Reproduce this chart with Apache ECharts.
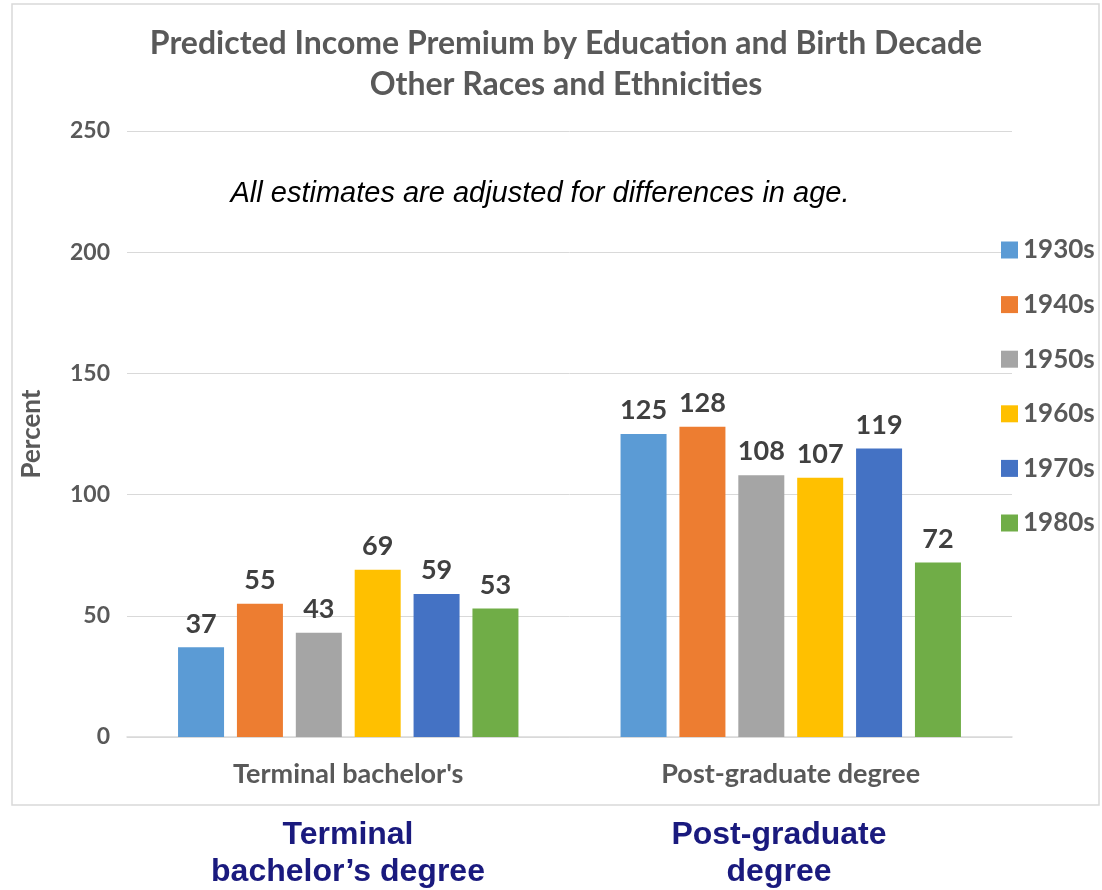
<!DOCTYPE html>
<html><head><meta charset="utf-8">
<script src="https://cdn.jsdelivr.net/npm/echarts@6/dist/echarts.min.js"></script>
<style>html,body{margin:0;padding:0;background:#fff}#c{width:1102px;height:890px}</style>
</head><body><div id="c"></div>
<script>
const categories = ["Terminal bachelor's", "Post-graduate degree"];
const seriesNames = ["1930s", "1940s", "1950s", "1960s", "1970s", "1980s"];
const v1930s = [37, 125];
const v1940s = [55, 128];
const v1950s = [43, 108];
const v1960s = [69, 107];
const v1970s = [59, 119];
const v1980s = [53, 72];
const colors = ["#5B9BD5", "#ED7D31", "#A5A5A5", "#FFC000", "#4472C4", "#70AD47"];
const yTicks = [0, 50, 100, 150, 200, 250];

const values = [v1930s, v1940s, v1950s, v1960s, v1970s, v1980s];
const chart = echarts.init(document.getElementById('c'));
const F = 'Lato, "Open Sans", sans-serif';
chart.setOption({
  animation: false,
  title: {
    text: 'Predicted Income Premium by Education and Birth Decade\nOther Races and Ethnicities',
    left: 561, top: 18, textAlign: 'center',
    textStyle: {fontFamily: F, fontWeight: 'bold', fontSize: 32, color: '#595959', lineHeight: 41}
  },
  legend: {
    orient: 'vertical', left: 996, top: 232, itemWidth: 17, itemHeight: 17, itemGap: 28.6,
    icon: 'rect',
    textStyle: {fontFamily: F, fontWeight: 'bold', fontSize: 26, color: '#595959', padding: [0,0,0,0]},
    data: seriesNames
  },
  grid: {left: 127, right: 90, top: 131, bottom: 153, containLabel: false},
  xAxis: {
    type: 'category', data: categories,
    axisLine: {lineStyle: {color: '#D9D9D9', width: 1.5}},
    axisTick: {show: false},
    axisLabel: {fontFamily: F, fontWeight: 'bold', fontSize: 27, color: '#595959', margin: 24}
  },
  yAxis: {
    type: 'value', min: 0, max: 250, interval: 50,
    name: 'Percent', nameLocation: 'middle', nameGap: 82, nameRotate: 90,
    nameTextStyle: {fontFamily: F, fontWeight: 'bold', fontSize: 26, color: '#595959'},
    axisLabel: {fontFamily: F, fontWeight: 'bold', fontSize: 23, color: '#595959', margin: 17,
      formatter: v => yTicks.includes(v) ? String(v) : ''},
    splitLine: {lineStyle: {color: '#D9D9D9', width: 1}},
    axisLine: {show: false}, axisTick: {show: false}
  },
  series: seriesNames.map((n, i) => ({
    name: n, type: 'bar', data: values[i], barWidth: 46, barGap: '28%',
    itemStyle: {color: colors[i]},
    label: {show: true, position: 'top', distance: 10, fontFamily: F, fontWeight: 'bold', fontSize: 27, color: '#404040'}
  })),
  graphic: [
    {type: 'rect', shape: {x: 12, y: 4, width: 1087, height: 801}, style: {fill: 'none', stroke: '#D9D9D9', lineWidth: 1.5}, z: -1},
    {type: 'text', x: 540, y: 194, style: {text: 'All estimates are adjusted for differences in age.', fontFamily: 'Liberation Sans, Arial, sans-serif', fontStyle: 'italic', fontSize: 29, fill: '#000', textAlign: 'center', textVerticalAlign: 'middle'}},
    {type: 'text', x: 348, y: 854, style: {text: 'Terminal\nbachelor\u2019s degree', fontFamily: 'Liberation Sans, Arial, sans-serif', fontWeight: 'bold', fontSize: 32, lineHeight: 37, fill: '#1A1A7E', textAlign: 'center', textVerticalAlign: 'middle'}},
    {type: 'text', x: 779, y: 854, style: {text: 'Post-graduate\ndegree', fontFamily: 'Liberation Sans, Arial, sans-serif', fontWeight: 'bold', fontSize: 32, lineHeight: 37, fill: '#1A1A7E', textAlign: 'center', textVerticalAlign: 'middle'}}
  ]
});
</script></body></html>
